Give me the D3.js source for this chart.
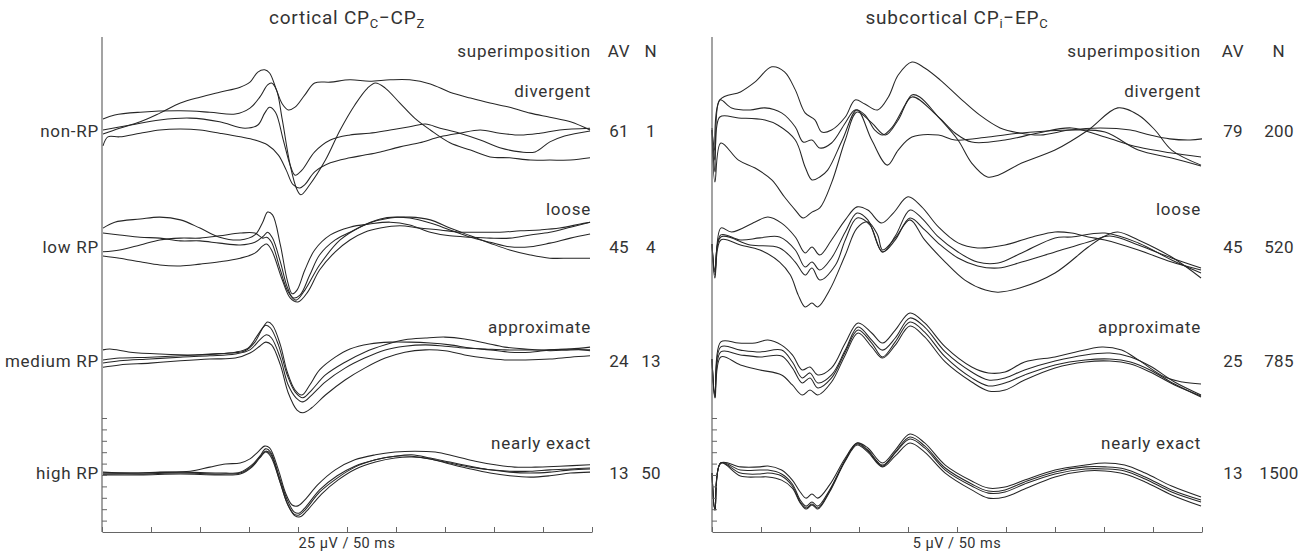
<!DOCTYPE html>
<html><head><meta charset="utf-8">
<script src="https://cdn.jsdelivr.net/npm/d3@7/dist/d3.min.js"></script>
<style>
html,body{margin:0;padding:0;background:#fff;}
svg{display:block;}
text{font-family:Roboto,"Noto Sans",sans-serif;fill:#333;}
</style></head>
<body>
<svg id="chart" width="1299" height="553"></svg>
<script>
// ---------- DATA (time in ms, amplitude in µV) ----------
const rowLabels = ["non-RP", "low RP", "medium RP", "high RP"];
const groupLabels = ["divergent", "loose", "approximate", "nearly exact"];
const avCortical = [61, 45, 24, 13];
const nCortical = [1, 4, 13, 50];
const avSub = [79, 45, 25, 13];
const nSub = [200, 520, 785, 1500];
const timeTicks = [0, 50, 100, 150, 200, 250, 300, 350, 400, 450, 500];
const calibCortical = [2.5, 5, 7.5, 10, 12.5, 15, 17.5, 20, 22.5, 25];
const calibSub = [0.5, 1, 1.5, 2, 2.5, 3, 3.5, 4, 4.5, 5];

const cortNon = [
 [[1,-0.9],[18,0.4],[39,1.8],[59,3.7],[80,5.9],[100,7.2],[120,8.3],[141,9.4],[151,10.5],[159,12.7],[166,13.2],[171,12.5],[178,8.8],[184,5.7],[190,4.4],[197,5.0],[207,7.7],[217,10.3],[233,10.5],[253,11.0],[273,10.7],[294,11.0],[314,11.0],[335,10.1],[355,8.3],[376,7.0],[396,5.9],[416,5.0],[437,3.7],[457,2.8],[478,1.8],[498,0.0]],
 [[1,2.4],[13,3.3],[39,3.9],[80,4.2],[110,3.9],[136,3.5],[151,4.8],[161,7.2],[169,9.9],[173,10.3],[178,8.8],[184,2.2],[192,-7.7],[199,-13.1],[203,-14.2],[212,-12.0],[228,-6.6],[243,0.0],[258,5.5],[271,9.2],[279,10.3],[289,9.2],[304,5.9],[319,2.6],[335,0.0],[355,-2.8],[376,-4.4],[396,-5.9],[416,-6.1],[437,-6.6],[457,-6.6],[478,-6.6],[498,-6.1]],
 [[1,0],[29,1.1],[59,2.2],[90,2.6],[120,1.8],[146,0.4],[159,1.1],[166,3.7],[171,5.0],[177,3.9],[185,-2.2],[192,-7.7],[197,-9.9],[204,-8.8],[217,-4.8],[233,-2.2],[253,-1.1],[273,-0.7],[294,0],[314,0.7],[330,1.3],[345,0.4],[365,-0.7],[386,-2.2],[406,-3.9],[427,-4.8],[442,-4.8],[457,-2.6],[472,-1.3],[498,-0.2]],
 [[1,-3.5],[6,-1.5],[18,-1.5],[39,-0.7],[59,0],[80,0.2],[100,0],[120,-0.7],[141,-1.5],[156,-2.2],[169,-3.3],[180,-5.5],[188,-8.8],[195,-12.0],[202,-12.7],[207,-12.0],[217,-9.2],[233,-7.2],[253,-6.1],[268,-5.5],[284,-4.8],[304,-3.7],[324,-2.8],[345,-1.5],[365,-0.7],[386,0],[406,-0.7],[427,-1.1],[447,-0.7],[467,0],[498,0.4]]
];
const cortLow = [
 [[1,3.6],[13,4.9],[39,5.6],[59,6.0],[80,5.4],[100,3.6],[120,1.6],[141,1.0],[156,2.1],[164,4.9],[169,7.1],[174,6.5],[182,-0.1],[189,-7.8],[194,-10.8],[199,-10.0],[207,-5.6],[217,-1.2],[233,2.1],[253,3.8],[273,4.5],[294,4.9],[314,4.3],[335,2.7],[355,1.9],[376,1.6],[396,1.4],[416,1.4],[437,2.1],[457,2.7],[478,3.8],[498,4.9]],
 [[1,2.5],[18,2.1],[39,1.6],[59,1.4],[80,0.8],[100,0.8],[120,0.3],[141,-0.1],[156,0.5],[165,1.9],[169,2.7],[174,1.4],[182,-3.8],[189,-9.3],[195,-11.7],[202,-11.1],[212,-6.7],[222,-2.3],[238,1.0],[253,2.7],[273,4.7],[294,5.8],[314,6.0],[335,5.4],[355,3.6],[376,1.9],[396,0.3],[416,-1.2],[437,-2.3],[457,-3.0],[478,-3.0],[498,-3.0]],
 [[1,-1.6],[18,-1.2],[39,-0.1],[59,1.0],[80,1.4],[100,1.4],[120,1.9],[141,2.5],[156,2.5],[164,1.4],[168,1.6],[173,0.5],[182,-5.6],[190,-10.4],[198,-12.2],[207,-10.0],[222,-4.5],[243,1.0],[263,3.8],[284,5.6],[299,6.0],[314,5.8],[335,4.7],[355,3.2],[376,1.6],[396,0.5],[416,-0.5],[437,-0.5],[457,0.3],[478,1.4],[498,2.3]],
 [[1,-2.5],[18,-3.0],[39,-3.8],[59,-4.5],[80,-4.7],[100,-4.3],[120,-3.8],[141,-3.0],[156,-1.9],[164,-0.3],[168,0.1],[173,-1.2],[184,-7.8],[192,-11.7],[200,-12.6],[210,-10.4],[222,-5.6],[238,-1.6],[253,1.0],[268,2.7],[284,3.6],[304,4.1],[324,3.6],[345,3.2],[365,2.7],[386,2.7],[406,2.7],[427,3.0],[447,3.2],[467,3.6],[488,4.5],[498,4.9]]
];
const cortMed = [
 [[1,2.0],[8,2.2],[29,1.5],[59,1.1],[100,0.9],[131,1.3],[146,1.8],[156,3.7],[164,6.8],[169,8.1],[174,7.4],[182,3.1],[189,-2.8],[197,-6.8],[204,-7.9],[212,-5.7],[222,-2.4],[238,0.4],[253,2.2],[273,3.3],[294,3.7],[314,3.7],[335,3.5],[355,3.1],[376,2.4],[396,2.0],[416,1.5],[437,1.5],[457,2.0],[478,2.2],[498,2.6]],
 [[1,-0.2],[18,0.2],[49,0.4],[80,0.7],[110,1.1],[136,1.5],[149,2.4],[159,5.3],[167,7.4],[172,6.8],[180,3.1],[189,-3.5],[197,-7.2],[205,-8.5],[214,-6.8],[228,-3.5],[248,-0.7],[268,1.5],[289,3.1],[309,4.2],[330,4.6],[350,4.8],[370,4.4],[391,3.5],[411,2.6],[432,2.2],[457,1.8],[478,2.0],[498,2.0]],
 [[1,-0.9],[18,-0.4],[49,0],[80,0.4],[110,0.7],[136,1.1],[151,2.0],[161,4.2],[168,5.3],[173,4.6],[182,0.2],[190,-5.7],[198,-8.5],[205,-9.4],[214,-7.9],[228,-5.0],[248,-2.0],[268,0.2],[289,2.0],[309,2.8],[330,3.1],[350,2.8],[370,2.4],[391,2.2],[411,2.0],[432,2.0],[457,2.0],[478,2.2],[498,1.8]],
 [[1,-1.8],[18,-1.3],[49,-0.9],[80,-0.4],[110,0],[136,0.2],[151,1.3],[161,2.8],[167,3.7],[173,3.1],[182,-1.3],[190,-7.4],[199,-11.2],[205,-11.8],[214,-10.7],[228,-7.9],[248,-4.6],[268,-2.0],[289,0.2],[309,1.5],[330,2.0],[350,1.8],[370,0.9],[391,0.2],[411,-0.2],[432,-0.2],[457,0],[478,0.4],[498,0.7]]
];
const cortHigh = [
 [[1,0.3],[29,0.1],[59,0.3],[90,0.5],[110,1.4],[126,2.1],[141,2.3],[151,3.2],[159,4.7],[166,6.0],[171,5.6],[180,0.8],[187,-4.1],[194,-6.9],[200,-7.1],[207,-5.8],[220,-2.5],[238,0.8],[258,3.0],[279,4.1],[299,4.7],[319,4.9],[340,4.7],[360,3.8],[381,2.7],[401,1.9],[421,1.4],[442,1.4],[467,1.6],[498,1.9]],
 [[1,0.1],[39,0.1],[80,0.3],[120,0.1],[141,0.3],[153,1.9],[161,3.8],[167,5.4],[172,4.7],[181,-0.8],[189,-5.8],[196,-8.4],[201,-8.7],[208,-7.3],[222,-3.6],[240,-0.5],[258,1.6],[279,3.0],[299,3.8],[316,4.1],[335,3.4],[355,2.5],[376,1.6],[396,0.8],[416,0.3],[437,0.1],[457,0.3],[478,0.8],[498,1.0]],
 [[1,-0.1],[39,-0.1],[80,0.1],[120,-0.1],[141,0.1],[153,1.6],[161,3.6],[167,4.9],[172,4.3],[181,-1.4],[189,-6.5],[196,-8.9],[201,-9.1],[208,-7.8],[222,-4.1],[240,-1.0],[258,1.4],[279,3.0],[299,3.8],[316,3.8],[335,3.2],[355,2.1],[376,1.0],[396,0.1],[416,-0.5],[437,-0.8],[457,-0.5],[478,0.1],[498,0.3]],
 [[1,-0.3],[39,-0.3],[80,-0.1],[120,-0.3],[141,-0.1],[153,1.4],[161,3.4],[167,4.7],[172,3.8],[182,-2.1],[190,-7.1],[197,-9.3],[202,-9.5],[209,-8.2],[224,-4.5],[241,-1.4],[259,1.0],[279,2.5],[299,3.4],[316,3.6],[335,3.2],[355,2.3],[376,1.4],[396,0.8],[416,0.5],[437,0.5],[457,0.8],[478,1.0],[498,1.2]]
];

const subNon = [
 [[0,0],[3,-1.84],[8,1.32],[29,1.67],[44,2.11],[61,2.77],[74,2.55],[85,1.76],[95,0.75],[105,0.44],[112,-0.09],[122,0],[136,0.57],[146,1.32],[156,1.14],[169,0.88],[180,1.45],[190,2.41],[204,2.98],[217,2.72],[233,2.19],[253,1.40],[273,0.66],[294,0.09],[314,-0.13],[335,-0.22],[365,0],[396,0.09],[427,0],[447,-0.22],[467,-0.39],[488,-0.44],[500,-0.39]],
 [[0,0.09],[3,-1.32],[8,1.32],[20,0.97],[39,0.88],[54,0.97],[71,0.75],[85,0.13],[93,-0.53],[102,-0.44],[110,-0.79],[122,-0.57],[136,0.31],[146,0.88],[156,0.66],[166,0],[174,-0.22],[184,0.13],[197,1.10],[204,1.54],[212,1.45],[231,0.57],[251,-0.44],[265,-1.45],[281,-2.06],[292,-1.98],[316,-1.45],[350,-0.88],[384,0],[414,0.97],[435,0.66],[452,0],[469,-0.88],[499,-1.54]],
 [[0,0],[3,-0.88],[8,0.57],[27,0.53],[54,0.44],[67,0.22],[85,-0.44],[95,-1.62],[102,-2.19],[110,-2.06],[118,-1.76],[133,-0.44],[148,0.88],[163,-0.44],[179,-1.54],[190,-0.88],[204,-0.31],[231,-0.22],[248,-0.44],[282,-0.31],[316,-0.13],[367,0],[401,-0.09],[435,-0.88],[469,-1.23],[499,-1.58]],
 [[0,0],[3,-2.28],[9,-0.57],[27,-1.32],[44,-1.67],[61,-2.19],[74,-2.94],[85,-3.51],[93,-3.86],[102,-3.60],[110,-3.42],[122,-2.32],[136,-0.44],[148,0.79],[163,0.31],[177,-0.22],[190,0.44],[204,1.45],[231,0.57],[248,-0.13],[265,-0.53],[299,-0.44],[333,-0.13],[367,0.09],[401,-0.31],[435,-0.75],[469,-1.01],[499,-1.18]]
];
const subLow = [
 [[0,0.02],[3,-1.34],[9,0.72],[20,0.55],[44,0.99],[57,1.21],[71,0.94],[85,0.33],[95,-0.37],[102,-0.11],[110,-0.46],[122,0.20],[136,1.08],[148,1.65],[159,1.51],[173,0.94],[185,1.38],[200,2.09],[214,1.65],[231,0.77],[251,0.07],[271,-0.15],[299,-0.02],[327,0.33],[350,0.55],[367,0.50],[384,0.33],[401,0.20],[435,-0.24],[469,-0.77],[499,-1.12]],
 [[0,0.02],[3,-1.21],[9,0.42],[29,0.20],[49,0.29],[69,0.33],[85,-0.24],[95,-0.99],[102,-0.77],[110,-1.12],[122,-0.59],[136,0.55],[148,1.38],[159,1.08],[174,-0.33],[187,0.37],[202,1.51],[214,1.16],[231,0.33],[251,-0.33],[271,-0.77],[292,-0.81],[316,-0.37],[350,0.29],[367,0.33],[401,0.50],[435,0.07],[469,-0.68],[499,-1.25]],
 [[0,0.02],[3,-1.12],[9,0.33],[39,-0.02],[69,-0.15],[85,-0.77],[95,-1.34],[102,-1.03],[110,-1.56],[126,-0.90],[136,0.20],[148,1.16],[161,0.86],[174,-0.33],[187,0.20],[202,1.16],[217,0.64],[233,-0.02],[251,-0.59],[271,-0.94],[292,-1.03],[316,-0.77],[350,-0.33],[384,0.11],[406,0.37],[435,-0.02],[469,-0.59],[499,-1.03]],
 [[0,0.02],[3,-1.47],[9,0.20],[29,-0.02],[49,-0.24],[69,-0.77],[80,-1.34],[88,-2.22],[95,-2.74],[102,-2.57],[108,-2.74],[120,-2.00],[136,-0.46],[148,0.72],[159,0.99],[169,0.42],[174,-0.24],[187,0.29],[202,1.08],[217,0.20],[238,-0.77],[258,-1.56],[279,-2.00],[292,-2.09],[314,-1.91],[350,-1.25],[384,-0.11],[401,0.37],[414,0.55],[435,0.20],[469,-0.55],[499,-1.47]]
];
const subMed = [
 [[0,0],[3,-1.67],[9,0.75],[27,0.70],[44,0.70],[57,0.83],[71,0.61],[82,0.18],[92,-0.48],[100,-0.35],[108,-0.70],[122,-0.39],[136,0.70],[149,1.58],[163,1.14],[174,0.70],[187,1.27],[202,2.02],[217,1.58],[238,0.53],[265,-0.35],[282,-0.61],[299,-0.57],[319,-0.13],[350,0.09],[367,0.26],[398,0.53],[418,0.39],[435,-0.04],[462,-0.79],[480,-1.01],[499,-1.10]],
 [[0,0],[3,-1.58],[9,0.53],[29,0.39],[49,0.31],[71,0.39],[82,-0.13],[92,-0.83],[100,-0.61],[108,-1.05],[122,-0.70],[136,0.39],[149,1.40],[163,0.83],[174,0.39],[187,0.92],[202,1.80],[217,1.40],[238,0.31],[265,-0.57],[282,-0.92],[299,-0.83],[319,-0.48],[350,-0.09],[381,0.18],[406,0.26],[427,0.09],[447,-0.31],[472,-1.01],[499,-1.58]],
 [[0,0],[3,-1.49],[9,0.31],[29,0.18],[49,0.09],[71,0.13],[82,-0.39],[92,-1.05],[100,-0.83],[108,-1.27],[122,-0.83],[136,0.31],[149,1.27],[163,0.70],[174,0.09],[187,0.75],[202,1.62],[217,1.18],[238,0.09],[265,-0.83],[282,-1.18],[299,-1.05],[319,-0.70],[350,-0.26],[381,-0.04],[406,0],[427,-0.13],[447,-0.48],[472,-1.10],[499,-1.67]],
 [[0,0],[3,-1.71],[9,0.09],[29,-0.26],[49,-0.48],[71,-0.70],[82,-1.14],[92,-1.58],[100,-1.36],[108,-1.58],[122,-1.01],[136,0.18],[149,1.14],[163,0.53],[174,0.04],[187,0.61],[202,1.45],[217,0.97],[238,-0.13],[265,-1.01],[282,-1.40],[299,-1.36],[319,-0.92],[350,-0.39],[381,-0.13],[406,-0.09],[427,-0.22],[447,-0.57],[472,-1.14],[499,-1.62]]
];
const subHigh = [
 [[0,0.02],[3,-1.60],[9,0.46],[29,0.29],[49,0.29],[57,0.33],[71,0.15],[82,-0.29],[90,-0.81],[96,-1.08],[102,-0.90],[108,-1.08],[120,-0.50],[136,0.68],[148,1.34],[159,1.12],[174,0.46],[187,1.03],[202,1.73],[217,1.34],[238,0.37],[265,-0.33],[282,-0.64],[299,-0.59],[319,-0.29],[350,0.15],[381,0.37],[401,0.46],[421,0.37],[442,0.02],[469,-0.55],[499,-1.03]],
 [[0,0.02],[3,-1.60],[9,0.46],[29,0.15],[49,0.15],[57,0.15],[71,-0.02],[82,-0.46],[90,-1.16],[96,-1.43],[102,-1.25],[108,-1.43],[120,-0.72],[136,0.59],[148,1.34],[159,1.03],[174,0.37],[187,0.94],[202,1.60],[217,1.21],[238,0.24],[265,-0.46],[282,-0.77],[299,-0.72],[319,-0.37],[350,0.07],[381,0.29],[401,0.29],[421,0.20],[442,-0.15],[469,-0.72],[499,-1.16]],
 [[0,0.02],[3,-1.60],[9,0.46],[29,0.02],[49,-0.02],[57,0.02],[71,-0.11],[82,-0.55],[90,-1.25],[96,-1.51],[102,-1.34],[108,-1.51],[120,-0.77],[136,0.59],[148,1.29],[159,0.99],[174,0.33],[187,0.90],[202,1.51],[217,1.12],[238,0.15],[265,-0.55],[282,-0.86],[299,-0.81],[319,-0.46],[350,-0.02],[381,0.20],[401,0.20],[421,0.11],[442,-0.24],[469,-0.81],[499,-1.25]],
 [[0,0.02],[3,-1.60],[9,0.46],[29,-0.11],[49,-0.15],[57,-0.15],[71,-0.29],[82,-0.64],[90,-1.29],[96,-1.56],[102,-1.38],[108,-1.56],[120,-0.81],[136,0.55],[148,1.25],[159,0.94],[174,0.29],[187,0.77],[202,1.34],[217,0.94],[238,0.02],[265,-0.72],[282,-1.08],[299,-1.03],[319,-0.68],[350,-0.15],[381,0.11],[401,0.11],[421,-0.02],[442,-0.37],[469,-0.94],[499,-1.43]]
];

// ---------- LAYOUT ----------
const svg = d3.select("#chart");
const rowY = [130, 244.5, 359, 473.5];          // trace baselines
const rowLabelY = [131, 247, 361, 473];          // row label centres
const groupLabelY = [91, 209, 327, 443];         // group label centres
const axisTop = 37, axisBottom = 532, calibTop = 418;
const axisColor = "#666", traceColor = "#262626";

const panels = [
  {x0:102, x1:592, half:12.5, calib:calibCortical, calibMax:25,
   groups:[cortNon,cortLow,cortMed,cortHigh], av:avCortical, n:nCortical,
   avX:619, nX:651, title:["cortical CP","C","\u2212CP","Z"], scaleLabel:"25 \u00B5V / 50 ms"},
  {x0:712, x1:1202, half:2.5, calib:calibSub, calibMax:5,
   groups:[subNon,subLow,subMed,subHigh], av:avSub, n:nSub,
   avX:1233, nX:1279, title:["subcortical CP","i","\u2212EP","C"], scaleLabel:"5 \u00B5V / 50 ms"}
];

const fontSize = 17, ls = "0.75px";

panels.forEach(p => {
  const g = svg.append("g");
  const x = d3.scaleLinear().domain([0, 500]).range([p.x0, p.x1]);
  const halfPx = (axisBottom - calibTop) / 2;

  // traces
  p.groups.forEach((traces, i) => {
    const y = d3.scaleLinear().domain([-p.half, p.half]).range([rowY[i] + halfPx, rowY[i] - halfPx]);
    const line = d3.line().x(d => x(d[0])).y(d => y(d[1])).curve(d3.curveCatmullRom.alpha(0.5));
    g.selectAll(null).data(traces).enter().append("path")
      .attr("d", line).attr("fill", "none").attr("stroke", traceColor)
      .attr("stroke-width", 1.05).attr("stroke-linejoin", "round");
  });

  // x axis (ticks inward)
  const xAxis = d3.axisTop(x).tickValues(timeTicks).tickSize(5).tickSizeOuter(0).tickFormat("");
  const gx = g.append("g").attr("transform", `translate(0,${axisBottom})`).call(xAxis);
  gx.selectAll("path,line").attr("stroke", axisColor).attr("stroke-width", 1);

  // y axis line + calibration ticks
  g.append("line").attr("x1", p.x0).attr("x2", p.x0).attr("y1", axisTop).attr("y2", axisBottom)
    .attr("stroke", axisColor).attr("stroke-width", 1.2);
  const yc = d3.scaleLinear().domain([0, p.calibMax]).range([axisBottom, calibTop]);
  const yAxis = d3.axisRight(yc).tickValues(p.calib).tickSize(5).tickFormat("");
  const gy = g.append("g").attr("transform", `translate(${p.x0},0)`).call(yAxis);
  gy.select(".domain").remove();
  gy.selectAll("line").attr("stroke", axisColor).attr("stroke-width", 1);

  // title
  const cx = (p.x0 + p.x1) / 2;
  const t = g.append("text").attr("x", cx).attr("y", 24).attr("text-anchor", "middle")
    .style("font-size", "19px").style("letter-spacing", ls);
  t.append("tspan").text(p.title[0]);
  t.append("tspan").text(p.title[1]).attr("dy", 4).style("font-size", "13px");
  t.append("tspan").text(p.title[2]).attr("dy", -4);
  t.append("tspan").text(p.title[3]).attr("dy", 4).style("font-size", "13px");

  // header
  const hdrY = 57;
  g.append("text").attr("x", p.x1 - 1).attr("y", hdrY).attr("text-anchor", "end")
    .style("font-size", fontSize + "px").style("letter-spacing", ls).text("superimposition");
  g.append("text").attr("x", p.avX).attr("y", hdrY).attr("text-anchor", "middle")
    .style("font-size", fontSize + "px").style("letter-spacing", ls).text("AV");
  g.append("text").attr("x", p.nX).attr("y", hdrY).attr("text-anchor", "middle")
    .style("font-size", fontSize + "px").style("letter-spacing", ls).text("N");

  // group labels
  g.selectAll(null).data(groupLabels).enter().append("text")
    .attr("x", p.x1 - 1).attr("y", (d, i) => groupLabelY[i] + 6)
    .attr("text-anchor", "end").style("font-size", fontSize + "px").style("letter-spacing", ls).text(d => d);

  // AV / N values
  g.selectAll(null).data(p.av).enter().append("text")
    .attr("x", p.avX).attr("y", (d, i) => rowLabelY[i] + 6).attr("text-anchor", "middle")
    .style("font-size", fontSize + "px").style("letter-spacing", "0.3px").text(d => d);
  g.selectAll(null).data(p.n).enter().append("text")
    .attr("x", p.nX).attr("y", (d, i) => rowLabelY[i] + 6).attr("text-anchor", "middle")
    .style("font-size", fontSize + "px").style("letter-spacing", "0.3px").text(d => d);

  // scale label
  g.append("text").attr("x", cx).attr("y", 548).attr("text-anchor", "middle")
    .style("font-size", "14.5px").style("letter-spacing", "0.5px").text(p.scaleLabel);
});

// row labels (left)
svg.selectAll(null).data(rowLabels).enter().append("text")
  .attr("x", 99).attr("y", (d, i) => rowLabelY[i] + 6).attr("text-anchor", "end")
  .style("font-size", fontSize + "px").style("letter-spacing", ls).text(d => d);
</script>
</body></html>
